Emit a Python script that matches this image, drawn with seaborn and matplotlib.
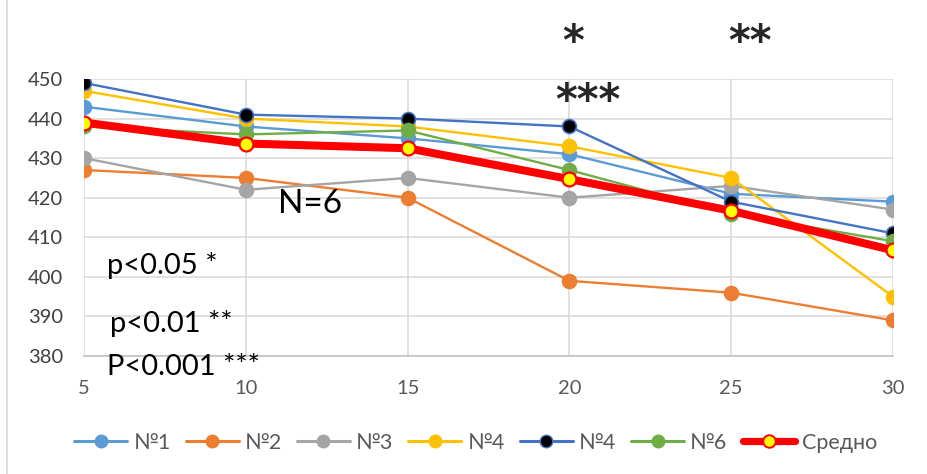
import matplotlib
matplotlib.use("Agg")
import matplotlib.pyplot as plt
from matplotlib.lines import Line2D
import pandas as pd
import seaborn as sns

# Measurement points on the x axis
x_vals = [5, 10, 15, 20, 25, 30]

# Individual series
s1 = [443, 438, 435, 431, 421, 419]
s2 = [427, 425, 420, 399, 396, 389]
s3 = [430, 422, 425, 420, 423, 417]
s4 = [447, 440, 438, 433, 425, 395]
s5 = [449, 441, 440, 438, 419, 411]
s6 = [438, 436, 437, 427, 416, 409]
# Average of the six series
mean_vals = [439.0, 433.7, 432.5, 424.7, 416.7, 406.7]

labels = ["№1", "№2", "№3", "№4", "№4", "№6", "Средно"]

sns.set_theme(style="white")
FONT = ["Lato", "DejaVu Sans"]
plt.rcParams["font.family"] = FONT

fig = plt.figure(figsize=(9.27, 4.74), dpi=100)
ax = fig.add_axes([84 / 927, 1 - 356 / 474, (893 - 84) / 927, (356 - 79) / 474])

series = [
    (s1, "#5B9BD5", "#5B9BD5", "#5B9BD5"),
    (s2, "#ED7D31", "#ED7D31", "#ED7D31"),
    (s3, "#A5A5A5", "#A5A5A5", "#A5A5A5"),
    (s4, "#FFC000", "#FFC000", "#FFC000"),
    (s5, "#4472C4", "#000000", "#4472C4"),
    (s6, "#70AD47", "#70AD47", "#70AD47"),
]

handles = []
for (vals, col, face, edge), lab in zip(series, labels[:6]):
    df = pd.DataFrame({"x": x_vals, "y": vals})
    sns.lineplot(data=df, x="x", y="y", ax=ax, color=col, linewidth=1.7,
                 marker="o", markersize=10, markerfacecolor=face,
                 markeredgecolor=edge, markeredgewidth=1.2, zorder=3)
    handles.append(Line2D([], [], color=col, linewidth=2.2, marker="o",
                          markersize=9, markerfacecolor=face,
                          markeredgecolor=edge, markeredgewidth=1.0, label=lab))

dfm = pd.DataFrame({"x": x_vals, "y": mean_vals})
sns.lineplot(data=dfm, x="x", y="y", ax=ax, color="#FF0000", linewidth=5.8,
             marker="o", markersize=10, markerfacecolor="#FFFF00",
             markeredgecolor="#FF0000", markeredgewidth=1.6, zorder=4)
handles.append(Line2D([], [], color="#FF0000", linewidth=5.2, marker="o",
                      markersize=9, markerfacecolor="#FFFF00",
                      markeredgecolor="#FF0000", markeredgewidth=1.4,
                      label=labels[6]))

ax.set_xlim(5, 30)
ax.set_ylim(380, 450)
ax.set_xticks(x_vals)
ax.set_yticks(range(380, 451, 10))
ax.set_xlabel("")
ax.set_ylabel("")
ax.grid(True, color="#D9D9D9", linewidth=1.1)
ax.set_axisbelow(True)
for side in ["left", "right", "top"]:
    ax.spines[side].set_visible(False)
ax.spines["bottom"].set_color("#BFBFBF")
ax.spines["bottom"].set_linewidth(1.1)
ax.tick_params(axis="both", length=0, labelsize=14.5)
ax.tick_params(axis="y", pad=15, labelcolor="#404040")
ax.tick_params(axis="x", pad=17.5, labelcolor="#595959")

# Annotations
ax.text(12.0, 418.3, "N=6", fontsize=24, ha="center", va="center", color="black")
ax.text(5.71, 402.8, "p<0.05 *", fontsize=21, ha="left", va="center", color="black")
ax.text(5.8, 388.3, "p<0.01 **", fontsize=21, ha="left", va="center", color="black")
ax.text(5.71, 377.2, "P<0.001 ***", fontsize=21, ha="left", va="center",
        color="black", clip_on=False)
ax.text(20.1, 456.0, "*", fontsize=30, fontweight="bold", ha="center",
        va="baseline", clip_on=False, family="DejaVu Sans")
ax.text(25.57, 456.0, "**", fontsize=30, fontweight="bold", ha="center",
        va="baseline", clip_on=False, family="DejaVu Sans")
ax.text(20.57, 441.1, "***", fontsize=30, fontweight="bold", ha="center",
        va="baseline", clip_on=False, family="DejaVu Sans")

leg = fig.legend(handles=handles, loc="center", bbox_to_anchor=(0.513, 0.066),
                 ncol=7, frameon=False, fontsize=15.5, handlelength=2.46,
                 handletextpad=0.28, columnspacing=0.7)
for t in leg.get_texts():
    t.set_color("#595959")

# Chart border on the left
fig.add_artist(Line2D([7 / 927, 7 / 927], [0, 1], transform=fig.transFigure,
                      color="#D9D9D9", linewidth=1.2))

fig.savefig("out.png", dpi=100)
